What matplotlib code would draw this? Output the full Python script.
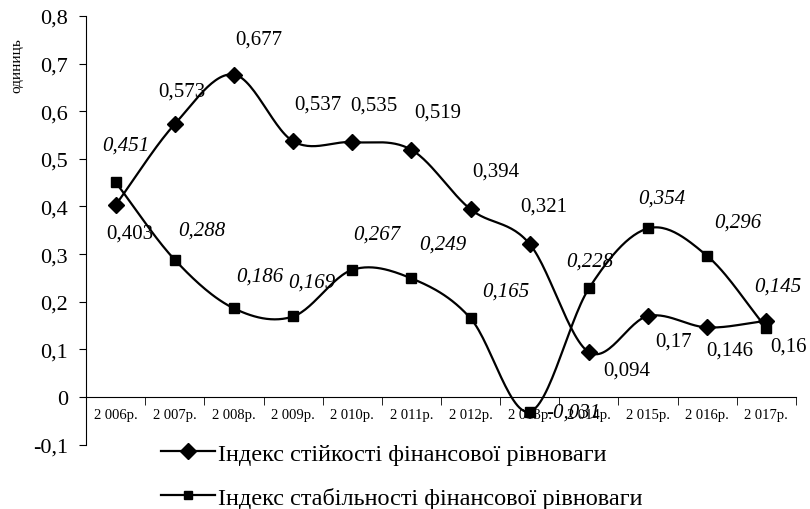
import numpy as np
import matplotlib.pyplot as plt
from matplotlib.ticker import FuncFormatter

plt.rcParams['font.family'] = ['Liberation Serif', 'DejaVu Serif']

# Donnees
years = ['2 006р.', '2 007р.', '2 008р.', '2 009р.', '2 010р.', '2 011р.',
         '2 012р.', '2 013р.', '2 014р.', '2 015р.', '2 016р.', '2 017р.']
stiikist = [0.403, 0.573, 0.677, 0.537, 0.535, 0.519, 0.394, 0.321, 0.094, 0.17, 0.146, 0.16]
stabilnist = [0.451, 0.288, 0.186, 0.169, 0.267, 0.249, 0.165, -0.031, 0.228, 0.354, 0.296, 0.145]
name1 = 'Індекс стійкості фінансової рівноваги'
name2 = 'Індекс стабільності фінансової рівноваги'

# decalages des etiquettes (pixels)
off1 = [(14, -28), (7, 33), (25, 36), (25, 37), (22, 37), (26, 38), (25, 38), (14, 38),
        (38, -18), (25, -25), (23, -23), (22, -25)]
off2 = [(10, 37), (27, 30), (26, 32), (19, 34), (25, 36), (31, 34), (35, 27), (44, 0),
        (1, 27), (14, 30), (31, 34), (11, 42)]


def lissage(x, y, n=30):
    # courbe type Catmull-Rom (lissage Excel)
    x = np.asarray(x, float)
    y = np.asarray(y, float)
    px = np.concatenate([[2 * x[0] - x[1]], x, [2 * x[-1] - x[-2]]])
    py = np.concatenate([[2 * y[0] - y[1]], y, [2 * y[-1] - y[-2]]])
    xs, ys = [], []
    for i in range(1, len(px) - 2):
        t = np.linspace(0, 1, n)
        for p, out in ((px, xs), (py, ys)):
            p0, p1, p2, p3 = p[i - 1], p[i], p[i + 1], p[i + 2]
            out.extend(0.5 * ((2 * p1) + (-p0 + p2) * t
                              + (2 * p0 - 5 * p1 + 4 * p2 - p3) * t ** 2
                              + (-p0 + 3 * p1 - 3 * p2 + p3) * t ** 3))
    return np.array(xs), np.array(ys)


fig = plt.figure(figsize=(8.1, 5.1), dpi=100)
ax = fig.add_axes([0.1062, 0.1263, 0.8765, 0.8404])
x = np.arange(len(years))

for vals, mk, ms in ((stiikist, 'D', 8), (stabilnist, 's', 7)):
    sx, sy = lissage(x, vals)
    ax.plot(sx, sy, color='black', lw=1.6)
    ax.plot(x, vals, ls='none', marker=mk, ms=ms, color='black')

for i in range(len(x)):
    ax.annotate(str(stiikist[i]).replace('.', ','), (x[i], stiikist[i]),
                xytext=off1[i], textcoords='offset pixels', ha='center', va='center',
                fontsize=15)
    ax.annotate(str(stabilnist[i]).replace('.', ','), (x[i], stabilnist[i]),
                xytext=off2[i], textcoords='offset pixels', ha='center', va='center',
                fontsize=15, style='italic')

ax.set_xlim(-0.5, 11.5)
ax.set_ylim(-0.1, 0.8)
ax.set_yticks(np.arange(-0.1, 0.81, 0.1))
ax.yaxis.set_major_formatter(FuncFormatter(lambda v, p: ('%g' % round(v, 1)).replace('.', ',')))
ax.tick_params(axis='y', labelsize=16, length=5, direction='out', pad=8)
ax.set_xticks(x)
ax.set_xticklabels(years)
ax.set_xticks(np.arange(-0.5, 12, 1), minor=True)
ax.tick_params(axis='x', which='major', length=0, labelsize=10.5, pad=8)
ax.tick_params(axis='x', which='minor', length=5.5, direction='out')
ax.spines['top'].set_visible(False)
ax.spines['right'].set_visible(False)
ax.spines['bottom'].set_position(('data', 0))
ax.set_ylabel('одиниць', fontsize=11)
ax.yaxis.set_label_coords(-0.088, 0.887)

h1, = ax.plot([], [], color='black', marker='D', ms=8, lw=1.6)
h2, = ax.plot([], [], color='black', marker='s', ms=6, lw=1.6)
fig.legend([h1, h2], [name1, name2], loc='upper left', bbox_to_anchor=(0.199, 0.130),
           frameon=False, fontsize=17.5, handlelength=2.2, handletextpad=0.15,
           labelspacing=0.9, borderaxespad=0, borderpad=0)

fig.savefig('out.png', dpi=100)
